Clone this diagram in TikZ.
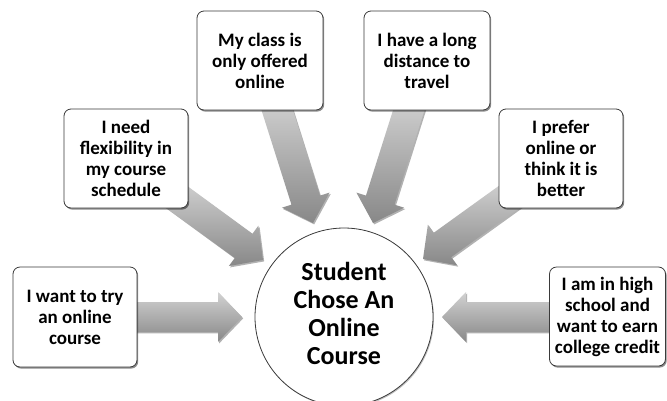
\documentclass[tikz,border=0pt]{standalone}
\usepackage{fontspec}
\setmainfont{Carlito}
\usetikzlibrary{calc,shadows}
\definecolor{arrtop}{HTML}{D2D2D2}
\definecolor{arrbot}{HTML}{888888}
\definecolor{edge}{HTML}{3A3A3A}
\tikzset{
  reason/.style={draw=edge, line width=0.8pt, fill=white, rounded corners=7pt,
    align=center, inner sep=0pt, font=\bfseries\fontsize{19}{21}\selectfont,
    drop shadow={shadow xshift=1.2pt, shadow yshift=-1.6pt, opacity=0.45, fill=black}},
  hub/.style={circle, draw=edge, line width=0.8pt, fill=white,
    inner sep=0pt, minimum size=178pt,
    drop shadow={shadow xshift=1pt, shadow yshift=-1.2pt, opacity=0.25, fill=black}},
  hubtext/.style={align=center, inner sep=0pt, font=\bfseries\fontsize{26}{28}\selectfont},
  bigarrowfill/.style={top color=arrtop, bottom color=arrbot, draw=none,
    drop shadow={shadow xshift=1.2pt, shadow yshift=-1.4pt, opacity=0.3, fill=black}}
}
\newcommand\bigarrow[2]{%
  \path ($(#2)!24pt!(#1)$) coordinate (hb);
  \path[bigarrowfill] ($(#1)!15pt!90:(#2)$) -- ($(hb)!15pt!90:(#2)$) -- ($(hb)!25pt!90:(#2)$)
    -- (#2) -- ($(hb)!25pt!-90:(#2)$) -- ($(hb)!15pt!-90:(#2)$) -- ($(#1)!15pt!-90:(#2)$) -- cycle;
}
\begin{document}
\begin{tikzpicture}[x=1pt,y=-1pt]
\useasboundingbox (0,0) rectangle (667,400);
\fill[white] (0,0) rectangle (667,400);
% arrow end points
\coordinate (t1) at (130,317); \coordinate (p1) at (242,317);
\coordinate (t2) at (170,192); \coordinate (p2) at (263,260);
\coordinate (t3) at (274,100); \coordinate (p3) at (313,223);
\coordinate (t4) at (412,100); \coordinate (p4) at (373,223);
\coordinate (t5) at (516,192); \coordinate (p5) at (423,259);
\coordinate (t6) at (556,317); \coordinate (p6) at (442,317);
\bigarrow{t1}{p1}
\bigarrow{t2}{p2}
\bigarrow{t3}{p3}
\bigarrow{t4}{p4}
\bigarrow{t5}{p5}
\bigarrow{t6}{p6}
% boxes
\node[reason, minimum width=124pt, minimum height=100pt] (b1) at (75,317) {I want to try\\an online\\course};
\node[reason, minimum width=124pt, minimum height=99pt] (b2) at (126,158.5) {I need\\flexibility in\\my course\\schedule};
\node[reason, minimum width=126pt, minimum height=99pt] (b3) at (260,60.5) {My class is\\only offered\\online};
\node[reason, minimum width=126pt, minimum height=99pt] (b4) at (427,60.5) {I have a long\\distance to\\travel};
\node[reason, minimum width=124pt, minimum height=99pt] (b5) at (561,158.5) {I prefer\\online or\\think it is\\better};
\node[reason, minimum width=116pt, minimum height=99pt] (b6) at (607.5,316.5) {I am in high\\school and\\want to earn\\college credit};
% hub
\node[hub] (c) at (344,317) {};
\node[hubtext] (ct) at (344,313) {Student\\Chose An\\Online\\Course};
\end{tikzpicture}
\end{document}
